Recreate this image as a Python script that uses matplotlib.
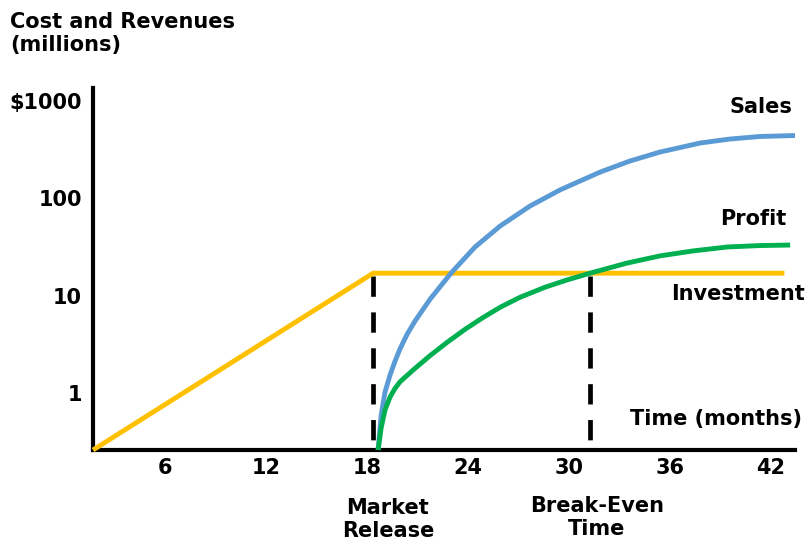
import matplotlib
matplotlib.use("Agg")
import matplotlib.pyplot as plt
from matplotlib.ticker import NullLocator, FixedLocator

# ---- data (months, $ millions) ----
invest_x = [1.72, 18.36, 42.8]
invest_y = [0.259, 17.0, 17.0]

sales_x = [18.66, 18.84, 19.07, 19.37, 19.67, 19.96, 20.38, 20.86, 21.75, 23.00,
           24.42, 25.91, 27.69, 29.47, 31.85, 33.63, 35.41, 37.79, 39.57, 41.35, 43.43]
sales_y = [0.259, 0.593, 1.02, 1.53, 2.13, 2.83, 4.0, 5.5, 9.2, 17.1,
           31.6, 51.9, 83.4, 122, 186, 242, 299, 370, 407, 432, 442]

profit_x = [18.66, 18.84, 19.07, 19.37, 19.66, 19.96, 20.74, 21.75, 22.76, 23.83,
            24.84, 25.91, 27.09, 28.58, 29.89, 31.25, 33.45, 35.41, 37.37, 39.39,
            41.35, 43.14]
profit_y = [0.259, 0.436, 0.667, 0.908, 1.11, 1.30, 1.72, 2.42, 3.31, 4.51,
            5.87, 7.59, 9.61, 12.2, 14.5, 17.0, 21.6, 25.6, 28.8, 31.6,
            32.7, 33.1]

market_release = 18.36
break_even = 31.25

x_ticks = [6, 12, 18, 24, 30, 36, 42]
y_ticks = [1, 10, 100, 1000]
y_tick_labels = ['1', '10', '100', r'\$1000']

W, H = 807, 541
FS = 15
fig = plt.figure(figsize=(W / 100, H / 100), dpi=100)
ax = fig.add_axes([93 / W, 1 - 450 / H, (795 - 93) / W, (450 - 88) / H])
ax.set_yscale('log')
ax.set_xlim(1.72, 43.43)
ax.set_ylim(0.259, 1361)

lw = 3.5
ax.plot(invest_x, invest_y, color='#FFC000', lw=lw, clip_on=False, zorder=3,
        solid_capstyle='butt', solid_joinstyle='miter')
ax.plot(sales_x, sales_y, color='#5B9BD5', lw=lw, clip_on=False, zorder=4,
        solid_capstyle='butt', solid_joinstyle='round')
ax.plot(profit_x, profit_y, color='#00B050', lw=lw, clip_on=False, zorder=5,
        solid_capstyle='butt', solid_joinstyle='round')

for xv, top in [(market_release, 16.0), (break_even, 16.0)]:
    ax.plot([xv, xv], [top, 0.259], color='black', lw=3.4, dashes=(4.3, 3.3),
            clip_on=False, zorder=2, dash_capstyle='butt')

for s in ['top', 'right']:
    ax.spines[s].set_visible(False)
for s in ['left', 'bottom']:
    ax.spines[s].set_linewidth(3.0)
    ax.spines[s].set_zorder(1)

ax.yaxis.set_minor_locator(NullLocator())
ax.yaxis.set_major_locator(FixedLocator(y_ticks))
ax.set_yticklabels(y_tick_labels)
ax.set_xticks(x_ticks)
ax.set_xticklabels([str(v) for v in x_ticks])
ax.tick_params(axis='both', length=0, labelsize=FS)
ax.tick_params(axis='y', pad=8)
ax.tick_params(axis='x', pad=6)
for lab in ax.get_xticklabels() + ax.get_yticklabels():
    lab.set_fontweight('bold')

def ftext(px, py, s, ha='left', va='center', **kw):
    fig.text(px / W, 1 - py / H, s, ha=ha, va=va, fontsize=FS,
             fontweight='bold', **kw)

ftext(10, 33.5, 'Cost and Revenues\n(millions)', linespacing=1.2)
ftext(792, 107, 'Sales', ha='right')
ftext(786, 219, 'Profit', ha='right')
ftext(805, 294, 'Investment', ha='right')
ftext(802, 419, 'Time (months)', ha='right')
ftext(388, 519.5, 'Market\nRelease', ha='center', linespacing=1.2)
ftext(597, 517.5, 'Break-Even\nTime', ha='center', linespacing=1.2)

fig.savefig('out.png', dpi=100)
